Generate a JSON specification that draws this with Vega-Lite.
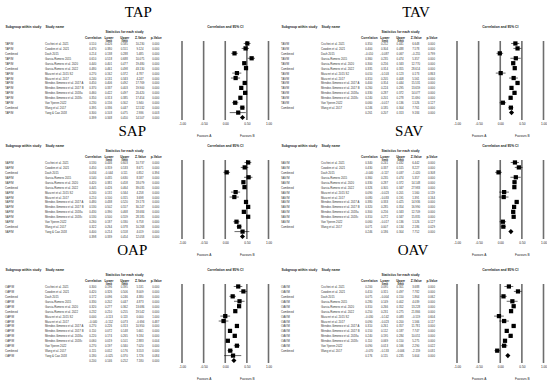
{
"$schema":"https://vega.github.io/schema/vega-lite/v6.json",
"background":"white",
"padding":{"left":5,"top":4,"right":0,"bottom":0},
"spacing":-13,
"data":{"values":[
{"g":"TAP","row":1,"kind":"study","sub":"TAP/M","study":"Cicchini et al. 2021","r":0.510,"lo":0.426,"hi":0.585,"z":10.230,"p":0.000},
{"g":"TAP","row":2,"kind":"study","sub":"TAP/M","study":"Cowden et al. 2021","r":0.470,"lo":0.380,"hi":0.551,"z":9.124,"p":0.000},
{"g":"TAP","row":3,"kind":"study","sub":"Combined","study":"Dash 2015","r":0.214,"lo":0.138,"hi":0.288,"z":5.485,"p":0.000},
{"g":"TAP","row":4,"kind":"study","sub":"TAP/M","study":"Garcia-Romero 2015","r":0.610,"lo":0.518,"hi":0.688,"z":10.075,"p":0.000},
{"g":"TAP","row":5,"kind":"study","sub":"TAP/M","study":"Garcia-Romero et al. 2020","r":0.440,"lo":0.401,"hi":0.477,"z":19.480,"p":0.000},
{"g":"TAP","row":6,"kind":"study","sub":"Combined","study":"Garcia-Romero et al. 2022","r":0.480,"lo":0.461,"hi":0.498,"z":43.130,"p":0.000},
{"g":"TAP","row":7,"kind":"study","sub":"TAP/M","study":"Mascret et al. 2015 S2","r":0.270,"lo":0.162,"hi":0.372,"z":4.787,"p":0.000},
{"g":"TAP","row":8,"kind":"study","sub":"TAP/M","study":"Mascret et al. 2017","r":0.240,"lo":0.131,"hi":0.343,"z":4.247,"p":0.000},
{"g":"TAP","row":9,"kind":"study","sub":"TAP/M","study":"Mendez-Gimenez et al. 2017 A","r":0.450,"lo":0.406,"hi":0.492,"z":17.769,"p":0.000},
{"g":"TAP","row":10,"kind":"study","sub":"TAP/M","study":"Mendez-Gimenez et al. 2017 B","r":0.370,"lo":0.337,"hi":0.403,"z":19.900,"p":0.000},
{"g":"TAP","row":11,"kind":"study","sub":"TAP/M","study":"Mendez-Gimenez et al. 2018a","r":0.460,"lo":0.422,"hi":0.497,"z":20.420,"p":0.000},
{"g":"TAP","row":12,"kind":"study","sub":"TAP/M","study":"Mendez-Gimenez et al. 2018c","r":0.350,"lo":0.313,"hi":0.385,"z":17.454,"p":0.000},
{"g":"TAP","row":13,"kind":"study","sub":"TAP/M","study":"Van Yperen 2022","r":0.230,"lo":0.156,"hi":0.302,"z":5.940,"p":0.000},
{"g":"TAP","row":14,"kind":"study","sub":"Combined","study":"Wang et al. 2017","r":0.395,"lo":0.336,"hi":0.447,"z":12.532,"p":0.000},
{"g":"TAP","row":15,"kind":"study","sub":"TAP/M","study":"Yang & Cao 2018","r":0.300,"lo":0.103,"hi":0.475,"z":2.936,"p":0.003},
{"g":"TAP","row":16,"kind":"summary","r":0.399,"lo":0.348,"hi":0.450,"z":14.507,"p":0.000},
{"g":"TAV","row":1,"kind":"study","sub":"TAV/M","study":"Cicchini et al. 2021","r":0.350,"lo":0.252,"hi":0.441,"z":6.648,"p":0.000},
{"g":"TAV","row":2,"kind":"study","sub":"TAV/M","study":"Cowden et al. 2021","r":0.400,"lo":0.304,"hi":0.488,"z":7.578,"p":0.000},
{"g":"TAV","row":3,"kind":"study","sub":"Combined","study":"Dash 2015","r":-0.010,"lo":-0.087,"hi":0.067,"z":-0.255,"p":0.799},
{"g":"TAV","row":4,"kind":"study","sub":"TAV/M","study":"Garcia-Romero 2015","r":0.360,"lo":0.235,"hi":0.474,"z":5.357,"p":0.000},
{"g":"TAV","row":5,"kind":"study","sub":"TAV/M","study":"Garcia-Romero et al. 2020","r":0.300,"lo":0.256,"hi":0.343,"z":12.770,"p":0.000},
{"g":"TAV","row":6,"kind":"study","sub":"Combined","study":"Garcia-Romero et al. 2022","r":0.335,"lo":0.314,"hi":0.355,"z":28.614,"p":0.000},
{"g":"TAV","row":7,"kind":"study","sub":"TAV/M","study":"Mascret et al. 2015 S2","r":0.010,"lo":-0.103,"hi":0.123,"z":0.173,"p":0.863},
{"g":"TAV","row":8,"kind":"study","sub":"TAV/M","study":"Mascret et al. 2017","r":0.310,"lo":0.205,"hi":0.408,"z":5.561,"p":0.000},
{"g":"TAV","row":9,"kind":"study","sub":"TAV/M","study":"Mendez-Gimenez et al. 2017 A","r":0.400,"lo":0.354,"hi":0.444,"z":15.531,"p":0.000},
{"g":"TAV","row":10,"kind":"study","sub":"TAV/M","study":"Mendez-Gimenez et al. 2017 B","r":0.260,"lo":0.224,"hi":0.295,"z":13.659,"p":0.000},
{"g":"TAV","row":11,"kind":"study","sub":"TAV/M","study":"Mendez-Gimenez et al. 2018a","r":0.330,"lo":0.287,"hi":0.372,"z":14.077,"p":0.000},
{"g":"TAV","row":12,"kind":"study","sub":"TAV/M","study":"Mendez-Gimenez et al. 2018c","r":0.240,"lo":0.201,"hi":0.278,"z":11.690,"p":0.000},
{"g":"TAV","row":13,"kind":"study","sub":"TAV/M","study":"Van Yperen 2022","r":0.060,"lo":-0.017,"hi":0.136,"z":1.526,"p":0.127},
{"g":"TAV","row":14,"kind":"study","sub":"Combined","study":"Wang et al. 2017","r":0.246,"lo":0.185,"hi":0.304,"z":7.761,"p":0.000},
{"g":"TAV","row":15,"kind":"summary","r":0.261,"lo":0.207,"hi":0.313,"z":9.184,"p":0.000},
{"g":"SAP","row":1,"kind":"study","sub":"SAP/M","study":"Cicchini et al. 2021","r":0.530,"lo":0.446,"hi":0.603,"z":10.737,"p":0.000},
{"g":"SAP","row":2,"kind":"study","sub":"SAP/M","study":"Cowden et al. 2021","r":0.450,"lo":0.359,"hi":0.533,"z":8.671,"p":0.000},
{"g":"SAP","row":3,"kind":"study","sub":"Combined","study":"Dash 2015","r":0.034,"lo":-0.044,"hi":0.111,"z":0.852,"p":0.394},
{"g":"SAP","row":4,"kind":"study","sub":"SAP/M","study":"Garcia-Romero 2015","r":0.540,"lo":0.435,"hi":0.630,"z":8.587,"p":0.000},
{"g":"SAP","row":5,"kind":"study","sub":"SAP/M","study":"Garcia-Romero et al. 2020","r":0.420,"lo":0.381,"hi":0.458,"z":18.079,"p":0.000},
{"g":"SAP","row":6,"kind":"study","sub":"Combined","study":"Garcia-Romero et al. 2022","r":0.445,"lo":0.426,"hi":0.464,"z":39.035,"p":0.000},
{"g":"SAP","row":7,"kind":"study","sub":"SAP/M","study":"Mascret et al. 2015 S2","r":0.240,"lo":0.131,"hi":0.344,"z":4.258,"p":0.000},
{"g":"SAP","row":8,"kind":"study","sub":"SAP/M","study":"Mascret et al. 2017","r":0.210,"lo":0.100,"hi":0.315,"z":3.698,"p":0.000},
{"g":"SAP","row":9,"kind":"study","sub":"SAP/M","study":"Mendez-Gimenez et al. 2017 A","r":0.480,"lo":0.438,"hi":0.520,"z":19.173,"p":0.000},
{"g":"SAP","row":10,"kind":"study","sub":"SAP/M","study":"Mendez-Gimenez et al. 2017 B","r":0.530,"lo":0.502,"hi":0.557,"z":30.247,"p":0.000},
{"g":"SAP","row":11,"kind":"study","sub":"SAP/M","study":"Mendez-Gimenez et al. 2018a","r":0.430,"lo":0.390,"hi":0.468,"z":18.684,"p":0.000},
{"g":"SAP","row":12,"kind":"study","sub":"SAP/M","study":"Mendez-Gimenez et al. 2018c","r":0.530,"lo":0.500,"hi":0.559,"z":28.185,"p":0.000},
{"g":"SAP","row":13,"kind":"study","sub":"SAP/M","study":"Van Yperen 2022","r":0.260,"lo":0.187,"hi":0.330,"z":6.758,"p":0.000},
{"g":"SAP","row":14,"kind":"study","sub":"Combined","study":"Wang et al. 2017","r":0.322,"lo":0.264,"hi":0.378,"z":10.268,"p":0.000},
{"g":"SAP","row":15,"kind":"study","sub":"SAP/M","study":"Yang & Cao 2018","r":0.400,"lo":0.214,"hi":0.558,"z":4.019,"p":0.000},
{"g":"SAP","row":16,"kind":"summary","r":0.398,"lo":0.339,"hi":0.454,"z":12.058,"p":0.000},
{"g":"SAV","row":1,"kind":"study","sub":"SAV/M","study":"Cicchini et al. 2021","r":0.340,"lo":0.241,"hi":0.432,"z":6.442,"p":0.000},
{"g":"SAV","row":2,"kind":"study","sub":"SAV/M","study":"Cowden et al. 2021","r":0.430,"lo":0.337,"hi":0.515,"z":8.227,"p":0.000},
{"g":"SAV","row":3,"kind":"study","sub":"Combined","study":"Dash 2015","r":-0.040,"lo":-0.117,"hi":0.037,"z":-1.020,"p":0.308},
{"g":"SAV","row":4,"kind":"study","sub":"SAV/M","study":"Garcia-Romero 2015","r":0.360,"lo":0.235,"hi":0.474,"z":5.357,"p":0.000},
{"g":"SAV","row":5,"kind":"study","sub":"SAV/M","study":"Garcia-Romero et al. 2020","r":0.330,"lo":0.287,"hi":0.372,"z":14.148,"p":0.000},
{"g":"SAV","row":6,"kind":"study","sub":"Combined","study":"Garcia-Romero et al. 2022","r":0.326,"lo":0.305,"hi":0.347,"z":27.983,"p":0.000},
{"g":"SAV","row":7,"kind":"study","sub":"SAV/M","study":"Mascret et al. 2015 S2","r":0.090,"lo":-0.023,"hi":0.201,"z":1.560,"p":0.119},
{"g":"SAV","row":8,"kind":"study","sub":"SAV/M","study":"Mascret et al. 2017","r":0.080,"lo":-0.033,"hi":0.191,"z":1.391,"p":0.164},
{"g":"SAV","row":9,"kind":"study","sub":"SAV/M","study":"Mendez-Gimenez et al. 2017 A","r":0.380,"lo":0.333,"hi":0.425,"z":14.936,"p":0.000},
{"g":"SAV","row":10,"kind":"study","sub":"SAV/M","study":"Mendez-Gimenez et al. 2017 B","r":0.320,"lo":0.285,"hi":0.354,"z":16.990,"p":0.000},
{"g":"SAV","row":11,"kind":"study","sub":"SAV/M","study":"Mendez-Gimenez et al. 2018a","r":0.300,"lo":0.256,"hi":0.343,"z":12.709,"p":0.000},
{"g":"SAV","row":12,"kind":"study","sub":"SAV/M","study":"Mendez-Gimenez et al. 2018c","r":0.310,"lo":0.272,"hi":0.347,"z":15.835,"p":0.000},
{"g":"SAV","row":13,"kind":"study","sub":"SAV/M","study":"Van Yperen 2022","r":0.060,"lo":-0.017,"hi":0.136,"z":1.526,"p":0.127},
{"g":"SAV","row":14,"kind":"study","sub":"Combined","study":"Wang et al. 2017","r":0.071,"lo":0.007,"hi":0.134,"z":2.186,"p":0.029},
{"g":"SAV","row":15,"kind":"summary","r":0.246,"lo":0.186,"hi":0.304,"z":7.752,"p":0.000},
{"g":"OAP","row":1,"kind":"study","sub":"OAP/M","study":"Cicchini et al. 2021","r":0.300,"lo":0.196,"hi":0.395,"z":5.531,"p":0.000},
{"g":"OAP","row":2,"kind":"study","sub":"OAP/M","study":"Cowden et al. 2021","r":0.420,"lo":0.326,"hi":0.506,"z":8.009,"p":0.000},
{"g":"OAP","row":3,"kind":"study","sub":"Combined","study":"Dash 2015","r":0.172,"lo":0.096,"hi":0.246,"z":4.380,"p":0.000},
{"g":"OAP","row":4,"kind":"study","sub":"OAP/M","study":"Garcia-Romero 2015","r":0.330,"lo":0.202,"hi":0.447,"z":4.873,"p":0.000},
{"g":"OAP","row":5,"kind":"study","sub":"OAP/M","study":"Garcia-Romero et al. 2020","r":0.320,"lo":0.277,"hi":0.362,"z":13.686,"p":0.000},
{"g":"OAP","row":6,"kind":"study","sub":"Combined","study":"Garcia-Romero et al. 2022","r":0.232,"lo":0.210,"hi":0.255,"z":19.542,"p":0.000},
{"g":"OAP","row":7,"kind":"study","sub":"OAP/M","study":"Mascret et al. 2015 S2","r":0.000,"lo":-0.113,"hi":0.113,"z":0.000,"p":1.000},
{"g":"OAP","row":8,"kind":"study","sub":"OAP/M","study":"Mascret et al. 2017","r":-0.040,"lo":-0.152,"hi":0.073,"z":-0.694,"p":0.487},
{"g":"OAP","row":9,"kind":"study","sub":"OAP/M","study":"Mendez-Gimenez et al. 2017 A","r":0.270,"lo":0.226,"hi":0.313,"z":10.950,"p":0.000},
{"g":"OAP","row":10,"kind":"study","sub":"OAP/M","study":"Mendez-Gimenez et al. 2017 B","r":0.110,"lo":0.072,"hi":0.148,"z":5.661,"p":0.000},
{"g":"OAP","row":11,"kind":"study","sub":"OAP/M","study":"Mendez-Gimenez et al. 2018a","r":0.220,"lo":0.174,"hi":0.265,"z":9.184,"p":0.000},
{"g":"OAP","row":12,"kind":"study","sub":"OAP/M","study":"Mendez-Gimenez et al. 2018c","r":0.060,"lo":0.019,"hi":0.101,"z":2.883,"p":0.004},
{"g":"OAP","row":13,"kind":"study","sub":"OAP/M","study":"Van Yperen 2022","r":0.270,"lo":0.197,"hi":0.340,"z":7.020,"p":0.000},
{"g":"OAP","row":14,"kind":"study","sub":"Combined","study":"Wang et al. 2017","r":0.115,"lo":0.052,"hi":0.176,"z":3.553,"p":0.000},
{"g":"OAP","row":15,"kind":"study","sub":"OAP/M","study":"Yang & Cao 2018","r":0.180,"lo":-0.025,"hi":0.370,"z":1.726,"p":0.084},
{"g":"OAP","row":16,"kind":"summary","r":0.200,"lo":0.146,"hi":0.252,"z":7.180,"p":0.000},
{"g":"OAV","row":1,"kind":"study","sub":"OAV/M","study":"Cicchini et al. 2021","r":0.200,"lo":0.095,"hi":0.301,"z":3.688,"p":0.000},
{"g":"OAV","row":2,"kind":"study","sub":"OAV/M","study":"Cowden et al. 2021","r":0.410,"lo":0.315,"hi":0.497,"z":7.782,"p":0.000},
{"g":"OAV","row":3,"kind":"study","sub":"Combined","study":"Dash 2015","r":0.075,"lo":-0.004,"hi":0.150,"z":1.864,"p":0.062},
{"g":"OAV","row":4,"kind":"study","sub":"OAV/M","study":"Garcia-Romero 2015","r":0.280,"lo":0.149,"hi":0.402,"z":4.039,"p":0.000},
{"g":"OAV","row":5,"kind":"study","sub":"OAV/M","study":"Garcia-Romero et al. 2020","r":0.310,"lo":0.266,"hi":0.352,"z":13.228,"p":0.000},
{"g":"OAV","row":6,"kind":"study","sub":"Combined","study":"Garcia-Romero et al. 2022","r":0.250,"lo":0.231,"hi":0.275,"z":21.866,"p":0.000},
{"g":"OAV","row":7,"kind":"study","sub":"OAV/M","study":"Mascret et al. 2015 S2","r":-0.030,"lo":-0.142,"hi":0.083,"z":-0.519,"p":0.604},
{"g":"OAV","row":8,"kind":"study","sub":"OAV/M","study":"Mascret et al. 2017","r":0.090,"lo":-0.023,"hi":0.200,"z":1.566,"p":0.117},
{"g":"OAV","row":9,"kind":"study","sub":"OAV/M","study":"Mendez-Gimenez et al. 2017 A","r":0.310,"lo":0.261,"hi":0.357,"z":11.781,"p":0.000},
{"g":"OAV","row":10,"kind":"study","sub":"OAV/M","study":"Mendez-Gimenez et al. 2017 B","r":0.150,"lo":0.112,"hi":0.187,"z":7.747,"p":0.000},
{"g":"OAV","row":11,"kind":"study","sub":"OAV/M","study":"Mendez-Gimenez et al. 2018a","r":0.240,"lo":0.195,"hi":0.284,"z":10.051,"p":0.000},
{"g":"OAV","row":12,"kind":"study","sub":"OAV/M","study":"Mendez-Gimenez et al. 2018c","r":0.110,"lo":0.069,"hi":0.150,"z":5.275,"p":0.000},
{"g":"OAV","row":13,"kind":"study","sub":"OAV/M","study":"Van Yperen 2022","r":0.090,"lo":0.013,"hi":0.166,"z":2.290,"p":0.022},
{"g":"OAV","row":14,"kind":"study","sub":"Combined","study":"Wang et al. 2017","r":-0.070,"lo":-0.133,"hi":-0.006,"z":-2.159,"p":0.031},
{"g":"OAV","row":15,"kind":"summary","r":0.176,"lo":0.115,"hi":0.235,"z":5.604,"p":0.000}
]},
"vconcat":[
{"hconcat":[
{"width":82,"height":79,"transform":[{"filter":"datum.g == 'TAP' && datum.kind == 'study'"},{"fold":["sub","study"],"as":["col","txt"]}],
 "mark":{"type":"text","align":"left","baseline":"middle","font":"Liberation Sans","fontSize":2.8,"color":"#333"},
 "encoding":{"x":{"field":"col","type":"nominal","scale":{"type":"point","domain":["sub","study"],"padding":0.525,"align":0},"axis":{"orient":"top","title":null,"domain":false,"ticks":false,"tickSize":0,"labelAngle":0,"labelAlign":"left","labelBaseline":"bottom","labelFont":"Liberation Sans","labelFontSize":3.3,"labelFontWeight":"bold","labelColor":"#222","labelPadding":12.4,"labelOverlap":false,"labelExpr":"datum.value == 'sub' ? 'Subgroup within study' : 'Study name'"}},
 "y":{"field":"row","type":"ordinal","scale":{"type":"point","domain":[1,2,3,4,5,6,7,8,9,10,11,12,13,14,15,16],"padding":0.5},"axis":null},
 "text":{"field":"txt","type":"nominal"}}},
{"width":94.5,"height":79,"title":{"text":"TAP","font":"Liberation Serif","fontSize":15,"fontWeight":"normal","color":"#000","offset":9.7,"dx":4,"anchor":"middle"},
 "transform":[{"filter":"datum.g == 'TAP'"},{"fold":["r","lo","hi","z","p"],"as":["col","val"]}],
 "mark":{"type":"text","align":"center","baseline":"middle","font":"Liberation Sans","fontSize":2.8,"color":"#333"},
 "encoding":{"x":{"field":"col","type":"nominal","scale":{"type":"point","domain":["r","lo","hi","z","p"],"padding":1.375,"align":0.1818},"axis":{"orient":"top","title":"Statistics for each study","titleFont":"Liberation Sans","titleFontSize":3.3,"titleFontWeight":"bold","titleColor":"#222","titlePadding":2.5,"titleX":37,"domain":false,"ticks":false,"tickSize":0,"labelAngle":0,"labelFont":"Liberation Sans","labelFontSize":3.1,"labelFontWeight":"bold","labelColor":"#222","labelPadding":2,"labelLineHeight":3.8,"labelOverlap":false,"labelExpr":"datum.value == 'r' ? 'Correlation' : datum.value == 'lo' ? ['Lower','limit'] : datum.value == 'hi' ? ['Upper','limit'] : datum.value == 'z' ? 'Z-Value' : 'p-Value'"}},
 "y":{"field":"row","type":"ordinal","scale":{"type":"point","domain":[1,2,3,4,5,6,7,8,9,10,11,12,13,14,15,16],"padding":0.5},"axis":null},
 "text":{"field":"val","type":"quantitative","format":".3f"}}},
{"width":86.5,"height":79,"title":{"text":"Correlation and 95% CI","font":"Liberation Sans","fontSize":3.3,"fontWeight":"bold","color":"#222","offset":12,"anchor":"middle"},
 "layer":[
  {"data":{"values":[{"v":-1},{"v":-0.5},{"v":0},{"v":0.5},{"v":1}]},"mark":{"type":"rule","color":"#6e6e6e","strokeWidth":1.6},
   "encoding":{"x":{"field":"v","type":"quantitative","title":null,"scale":{"domain":[-1,1],"nice":false,"zero":false},"axis":{"orient":"bottom","values":[-1,-0.5,0,0.5,1],"grid":false,"domain":false,"ticks":false,"labelFont":"Liberation Sans","labelFontSize":3.2,"labelColor":"#222","labelPadding":1,"labelFlush":false,"labelOverlap":false,"labelLineHeight":12.8,"labelExpr":"datum.value == -1 ? '-1.00' : datum.value == -0.5 ? ['-0.50','Favours A'] : datum.value == 0 ? '0.00' : datum.value == 0.5 ? ['0.50','Favours B'] : '1.00'"}}}},
  {"transform":[{"filter":"datum.g == 'TAP' && datum.kind == 'study'"}],"mark":{"type":"rule","color":"#000","strokeWidth":0.6},
   "encoding":{"x":{"field":"lo","type":"quantitative","title":null,"axis":{"orient":"bottom","values":[-1,-0.5,0,0.5,1],"grid":false,"domain":false,"ticks":false,"labelFont":"Liberation Sans","labelFontSize":3.2,"labelColor":"#222","labelPadding":1,"labelFlush":false,"labelOverlap":false,"labelLineHeight":12.8,"labelExpr":"datum.value == -1 ? '-1.00' : datum.value == -0.5 ? ['-0.50','Favours A'] : datum.value == 0 ? '0.00' : datum.value == 0.5 ? ['0.50','Favours B'] : '1.00'"}},"x2":{"field":"hi"},
   "y":{"field":"row","type":"ordinal","scale":{"type":"point","domain":[1,2,3,4,5,6,7,8,9,10,11,12,13,14,15,16],"padding":0.5},"axis":null}}},
  {"transform":[{"filter":"datum.g == 'TAP' && datum.kind == 'study'"}],"mark":{"type":"point","shape":"square","filled":true,"size":18,"color":"#000","opacity":1},
   "encoding":{"x":{"field":"r","type":"quantitative","title":null,"axis":{"orient":"bottom","values":[-1,-0.5,0,0.5,1],"grid":false,"domain":false,"ticks":false,"labelFont":"Liberation Sans","labelFontSize":3.2,"labelColor":"#222","labelPadding":1,"labelFlush":false,"labelOverlap":false,"labelLineHeight":12.8,"labelExpr":"datum.value == -1 ? '-1.00' : datum.value == -0.5 ? ['-0.50','Favours A'] : datum.value == 0 ? '0.00' : datum.value == 0.5 ? ['0.50','Favours B'] : '1.00'"}},"y":{"field":"row","type":"ordinal","axis":null}}},
  {"transform":[{"filter":"datum.g == 'TAP' && datum.kind == 'summary'"}],"mark":{"type":"point","shape":"diamond","filled":true,"size":26,"color":"#000","opacity":1},
   "encoding":{"x":{"field":"r","type":"quantitative","title":null,"axis":{"orient":"bottom","values":[-1,-0.5,0,0.5,1],"grid":false,"domain":false,"ticks":false,"labelFont":"Liberation Sans","labelFontSize":3.2,"labelColor":"#222","labelPadding":1,"labelFlush":false,"labelOverlap":false,"labelLineHeight":12.8,"labelExpr":"datum.value == -1 ? '-1.00' : datum.value == -0.5 ? ['-0.50','Favours A'] : datum.value == 0 ? '0.00' : datum.value == 0.5 ? ['0.50','Favours B'] : '1.00'"}},"y":{"field":"row","type":"ordinal","axis":null}}}
 ]},
{"width":94,"height":79,"transform":[{"filter":"datum.g == 'TAV' && datum.kind == 'study'"},{"fold":["sub","study"],"as":["col","txt"]}],
 "mark":{"type":"text","align":"left","baseline":"middle","font":"Liberation Sans","fontSize":2.8,"color":"#333"},
 "encoding":{"x":{"field":"col","type":"nominal","scale":{"type":"point","domain":["sub","study"],"padding":0.675,"align":0.2222},"axis":{"orient":"top","title":null,"domain":false,"ticks":false,"tickSize":0,"labelAngle":0,"labelAlign":"left","labelBaseline":"bottom","labelFont":"Liberation Sans","labelFontSize":3.3,"labelFontWeight":"bold","labelColor":"#222","labelPadding":12.4,"labelOverlap":false,"labelExpr":"datum.value == 'sub' ? 'Subgroup within study' : 'Study name'"}},
 "y":{"field":"row","type":"ordinal","scale":{"type":"point","domain":[1,2,3,4,5,6,7,8,9,10,11,12,13,14,15,16],"padding":0.5},"axis":null},
 "text":{"field":"txt","type":"nominal"}}},
{"width":94,"height":79,"title":{"text":"TAV","font":"Liberation Serif","fontSize":15,"fontWeight":"normal","color":"#000","offset":9.7,"dx":6,"anchor":"middle"},
 "transform":[{"filter":"datum.g == 'TAV'"},{"fold":["r","lo","hi","z","p"],"as":["col","val"]}],
 "mark":{"type":"text","align":"center","baseline":"middle","font":"Liberation Sans","fontSize":2.8,"color":"#333"},
 "encoding":{"x":{"field":"col","type":"nominal","scale":{"type":"point","domain":["r","lo","hi","z","p"],"padding":1.357,"align":0.184},"axis":{"orient":"top","title":"Statistics for each study","titleFont":"Liberation Sans","titleFontSize":3.3,"titleFontWeight":"bold","titleColor":"#222","titlePadding":2.5,"titleX":37,"domain":false,"ticks":false,"tickSize":0,"labelAngle":0,"labelFont":"Liberation Sans","labelFontSize":3.1,"labelFontWeight":"bold","labelColor":"#222","labelPadding":2,"labelLineHeight":3.8,"labelOverlap":false,"labelExpr":"datum.value == 'r' ? 'Correlation' : datum.value == 'lo' ? ['Lower','limit'] : datum.value == 'hi' ? ['Upper','limit'] : datum.value == 'z' ? 'Z-Value' : 'p-Value'"}},
 "y":{"field":"row","type":"ordinal","scale":{"type":"point","domain":[1,2,3,4,5,6,7,8,9,10,11,12,13,14,15,16],"padding":0.5},"axis":null},
 "text":{"field":"val","type":"quantitative","format":".3f"}}},
{"width":86.5,"height":79,"title":{"text":"Correlation and 95% CI","font":"Liberation Sans","fontSize":3.3,"fontWeight":"bold","color":"#222","offset":12,"anchor":"middle"},
 "layer":[
  {"data":{"values":[{"v":-1},{"v":-0.5},{"v":0},{"v":0.5},{"v":1}]},"mark":{"type":"rule","color":"#6e6e6e","strokeWidth":1.6},
   "encoding":{"x":{"field":"v","type":"quantitative","title":null,"scale":{"domain":[-1,1],"nice":false,"zero":false},"axis":{"orient":"bottom","values":[-1,-0.5,0,0.5,1],"grid":false,"domain":false,"ticks":false,"labelFont":"Liberation Sans","labelFontSize":3.2,"labelColor":"#222","labelPadding":1,"labelFlush":false,"labelOverlap":false,"labelLineHeight":12.8,"labelExpr":"datum.value == -1 ? '-1.00' : datum.value == -0.5 ? ['-0.50','Favours A'] : datum.value == 0 ? '0.00' : datum.value == 0.5 ? ['0.50','Favours B'] : '1.00'"}}}},
  {"transform":[{"filter":"datum.g == 'TAV' && datum.kind == 'study'"}],"mark":{"type":"rule","color":"#000","strokeWidth":0.6},
   "encoding":{"x":{"field":"lo","type":"quantitative","title":null,"axis":{"orient":"bottom","values":[-1,-0.5,0,0.5,1],"grid":false,"domain":false,"ticks":false,"labelFont":"Liberation Sans","labelFontSize":3.2,"labelColor":"#222","labelPadding":1,"labelFlush":false,"labelOverlap":false,"labelLineHeight":12.8,"labelExpr":"datum.value == -1 ? '-1.00' : datum.value == -0.5 ? ['-0.50','Favours A'] : datum.value == 0 ? '0.00' : datum.value == 0.5 ? ['0.50','Favours B'] : '1.00'"}},"x2":{"field":"hi"},
   "y":{"field":"row","type":"ordinal","scale":{"type":"point","domain":[1,2,3,4,5,6,7,8,9,10,11,12,13,14,15,16],"padding":0.5},"axis":null}}},
  {"transform":[{"filter":"datum.g == 'TAV' && datum.kind == 'study'"}],"mark":{"type":"point","shape":"square","filled":true,"size":18,"color":"#000","opacity":1},
   "encoding":{"x":{"field":"r","type":"quantitative","title":null,"axis":{"orient":"bottom","values":[-1,-0.5,0,0.5,1],"grid":false,"domain":false,"ticks":false,"labelFont":"Liberation Sans","labelFontSize":3.2,"labelColor":"#222","labelPadding":1,"labelFlush":false,"labelOverlap":false,"labelLineHeight":12.8,"labelExpr":"datum.value == -1 ? '-1.00' : datum.value == -0.5 ? ['-0.50','Favours A'] : datum.value == 0 ? '0.00' : datum.value == 0.5 ? ['0.50','Favours B'] : '1.00'"}},"y":{"field":"row","type":"ordinal","axis":null}}},
  {"transform":[{"filter":"datum.g == 'TAV' && datum.kind == 'summary'"}],"mark":{"type":"point","shape":"diamond","filled":true,"size":26,"color":"#000","opacity":1},
   "encoding":{"x":{"field":"r","type":"quantitative","title":null,"axis":{"orient":"bottom","values":[-1,-0.5,0,0.5,1],"grid":false,"domain":false,"ticks":false,"labelFont":"Liberation Sans","labelFontSize":3.2,"labelColor":"#222","labelPadding":1,"labelFlush":false,"labelOverlap":false,"labelLineHeight":12.8,"labelExpr":"datum.value == -1 ? '-1.00' : datum.value == -0.5 ? ['-0.50','Favours A'] : datum.value == 0 ? '0.00' : datum.value == 0.5 ? ['0.50','Favours B'] : '1.00'"}},"y":{"field":"row","type":"ordinal","axis":null}}}
 ]}
],"spacing":0,"bounds":"flush"},
{"hconcat":[
{"width":82,"height":79,"transform":[{"filter":"datum.g == 'SAP' && datum.kind == 'study'"},{"fold":["sub","study"],"as":["col","txt"]}],
 "mark":{"type":"text","align":"left","baseline":"middle","font":"Liberation Sans","fontSize":2.8,"color":"#333"},
 "encoding":{"x":{"field":"col","type":"nominal","scale":{"type":"point","domain":["sub","study"],"padding":0.525,"align":0},"axis":{"orient":"top","title":null,"domain":false,"ticks":false,"tickSize":0,"labelAngle":0,"labelAlign":"left","labelBaseline":"bottom","labelFont":"Liberation Sans","labelFontSize":3.3,"labelFontWeight":"bold","labelColor":"#222","labelPadding":12.4,"labelOverlap":false,"labelExpr":"datum.value == 'sub' ? 'Subgroup within study' : 'Study name'"}},
 "y":{"field":"row","type":"ordinal","scale":{"type":"point","domain":[1,2,3,4,5,6,7,8,9,10,11,12,13,14,15,16],"padding":0.5},"axis":null},
 "text":{"field":"txt","type":"nominal"}}},
{"width":94.5,"height":79,"title":{"text":"SAP","font":"Liberation Serif","fontSize":15,"fontWeight":"normal","color":"#000","offset":9.2,"dx":-2,"anchor":"middle"},
 "transform":[{"filter":"datum.g == 'SAP'"},{"fold":["r","lo","hi","z","p"],"as":["col","val"]}],
 "mark":{"type":"text","align":"center","baseline":"middle","font":"Liberation Sans","fontSize":2.8,"color":"#333"},
 "encoding":{"x":{"field":"col","type":"nominal","scale":{"type":"point","domain":["r","lo","hi","z","p"],"padding":1.375,"align":0.1818},"axis":{"orient":"top","title":"Statistics for each study","titleFont":"Liberation Sans","titleFontSize":3.3,"titleFontWeight":"bold","titleColor":"#222","titlePadding":2.5,"titleX":37,"domain":false,"ticks":false,"tickSize":0,"labelAngle":0,"labelFont":"Liberation Sans","labelFontSize":3.1,"labelFontWeight":"bold","labelColor":"#222","labelPadding":2,"labelLineHeight":3.8,"labelOverlap":false,"labelExpr":"datum.value == 'r' ? 'Correlation' : datum.value == 'lo' ? ['Lower','limit'] : datum.value == 'hi' ? ['Upper','limit'] : datum.value == 'z' ? 'Z-Value' : 'p-Value'"}},
 "y":{"field":"row","type":"ordinal","scale":{"type":"point","domain":[1,2,3,4,5,6,7,8,9,10,11,12,13,14,15,16],"padding":0.5},"axis":null},
 "text":{"field":"val","type":"quantitative","format":".3f"}}},
{"width":86.5,"height":79,"title":{"text":"Correlation and 95% CI","font":"Liberation Sans","fontSize":3.3,"fontWeight":"bold","color":"#222","offset":12,"anchor":"middle"},
 "layer":[
  {"data":{"values":[{"v":-1},{"v":-0.5},{"v":0},{"v":0.5},{"v":1}]},"mark":{"type":"rule","color":"#6e6e6e","strokeWidth":1.6},
   "encoding":{"x":{"field":"v","type":"quantitative","title":null,"scale":{"domain":[-1,1],"nice":false,"zero":false},"axis":{"orient":"bottom","values":[-1,-0.5,0,0.5,1],"grid":false,"domain":false,"ticks":false,"labelFont":"Liberation Sans","labelFontSize":3.2,"labelColor":"#222","labelPadding":1,"labelFlush":false,"labelOverlap":false,"labelLineHeight":12.8,"labelExpr":"datum.value == -1 ? '-1.00' : datum.value == -0.5 ? ['-0.50','Favours A'] : datum.value == 0 ? '0.00' : datum.value == 0.5 ? ['0.50','Favours B'] : '1.00'"}}}},
  {"transform":[{"filter":"datum.g == 'SAP' && datum.kind == 'study'"}],"mark":{"type":"rule","color":"#000","strokeWidth":0.6},
   "encoding":{"x":{"field":"lo","type":"quantitative","title":null,"axis":{"orient":"bottom","values":[-1,-0.5,0,0.5,1],"grid":false,"domain":false,"ticks":false,"labelFont":"Liberation Sans","labelFontSize":3.2,"labelColor":"#222","labelPadding":1,"labelFlush":false,"labelOverlap":false,"labelLineHeight":12.8,"labelExpr":"datum.value == -1 ? '-1.00' : datum.value == -0.5 ? ['-0.50','Favours A'] : datum.value == 0 ? '0.00' : datum.value == 0.5 ? ['0.50','Favours B'] : '1.00'"}},"x2":{"field":"hi"},
   "y":{"field":"row","type":"ordinal","scale":{"type":"point","domain":[1,2,3,4,5,6,7,8,9,10,11,12,13,14,15,16],"padding":0.5},"axis":null}}},
  {"transform":[{"filter":"datum.g == 'SAP' && datum.kind == 'study'"}],"mark":{"type":"point","shape":"square","filled":true,"size":18,"color":"#000","opacity":1},
   "encoding":{"x":{"field":"r","type":"quantitative","title":null,"axis":{"orient":"bottom","values":[-1,-0.5,0,0.5,1],"grid":false,"domain":false,"ticks":false,"labelFont":"Liberation Sans","labelFontSize":3.2,"labelColor":"#222","labelPadding":1,"labelFlush":false,"labelOverlap":false,"labelLineHeight":12.8,"labelExpr":"datum.value == -1 ? '-1.00' : datum.value == -0.5 ? ['-0.50','Favours A'] : datum.value == 0 ? '0.00' : datum.value == 0.5 ? ['0.50','Favours B'] : '1.00'"}},"y":{"field":"row","type":"ordinal","axis":null}}},
  {"transform":[{"filter":"datum.g == 'SAP' && datum.kind == 'summary'"}],"mark":{"type":"point","shape":"diamond","filled":true,"size":26,"color":"#000","opacity":1},
   "encoding":{"x":{"field":"r","type":"quantitative","title":null,"axis":{"orient":"bottom","values":[-1,-0.5,0,0.5,1],"grid":false,"domain":false,"ticks":false,"labelFont":"Liberation Sans","labelFontSize":3.2,"labelColor":"#222","labelPadding":1,"labelFlush":false,"labelOverlap":false,"labelLineHeight":12.8,"labelExpr":"datum.value == -1 ? '-1.00' : datum.value == -0.5 ? ['-0.50','Favours A'] : datum.value == 0 ? '0.00' : datum.value == 0.5 ? ['0.50','Favours B'] : '1.00'"}},"y":{"field":"row","type":"ordinal","axis":null}}}
 ]},
{"width":94,"height":79,"transform":[{"filter":"datum.g == 'SAV' && datum.kind == 'study'"},{"fold":["sub","study"],"as":["col","txt"]}],
 "mark":{"type":"text","align":"left","baseline":"middle","font":"Liberation Sans","fontSize":2.8,"color":"#333"},
 "encoding":{"x":{"field":"col","type":"nominal","scale":{"type":"point","domain":["sub","study"],"padding":0.675,"align":0.2222},"axis":{"orient":"top","title":null,"domain":false,"ticks":false,"tickSize":0,"labelAngle":0,"labelAlign":"left","labelBaseline":"bottom","labelFont":"Liberation Sans","labelFontSize":3.3,"labelFontWeight":"bold","labelColor":"#222","labelPadding":12.4,"labelOverlap":false,"labelExpr":"datum.value == 'sub' ? 'Subgroup within study' : 'Study name'"}},
 "y":{"field":"row","type":"ordinal","scale":{"type":"point","domain":[1,2,3,4,5,6,7,8,9,10,11,12,13,14,15,16],"padding":0.5},"axis":null},
 "text":{"field":"txt","type":"nominal"}}},
{"width":94,"height":79,"title":{"text":"SAV","font":"Liberation Serif","fontSize":15,"fontWeight":"normal","color":"#000","offset":9.2,"dx":-1,"anchor":"middle"},
 "transform":[{"filter":"datum.g == 'SAV'"},{"fold":["r","lo","hi","z","p"],"as":["col","val"]}],
 "mark":{"type":"text","align":"center","baseline":"middle","font":"Liberation Sans","fontSize":2.8,"color":"#333"},
 "encoding":{"x":{"field":"col","type":"nominal","scale":{"type":"point","domain":["r","lo","hi","z","p"],"padding":1.357,"align":0.184},"axis":{"orient":"top","title":"Statistics for each study","titleFont":"Liberation Sans","titleFontSize":3.3,"titleFontWeight":"bold","titleColor":"#222","titlePadding":2.5,"titleX":37,"domain":false,"ticks":false,"tickSize":0,"labelAngle":0,"labelFont":"Liberation Sans","labelFontSize":3.1,"labelFontWeight":"bold","labelColor":"#222","labelPadding":2,"labelLineHeight":3.8,"labelOverlap":false,"labelExpr":"datum.value == 'r' ? 'Correlation' : datum.value == 'lo' ? ['Lower','limit'] : datum.value == 'hi' ? ['Upper','limit'] : datum.value == 'z' ? 'Z-Value' : 'p-Value'"}},
 "y":{"field":"row","type":"ordinal","scale":{"type":"point","domain":[1,2,3,4,5,6,7,8,9,10,11,12,13,14,15,16],"padding":0.5},"axis":null},
 "text":{"field":"val","type":"quantitative","format":".3f"}}},
{"width":86.5,"height":79,"title":{"text":"Correlation and 95% CI","font":"Liberation Sans","fontSize":3.3,"fontWeight":"bold","color":"#222","offset":12,"anchor":"middle"},
 "layer":[
  {"data":{"values":[{"v":-1},{"v":-0.5},{"v":0},{"v":0.5},{"v":1}]},"mark":{"type":"rule","color":"#6e6e6e","strokeWidth":1.6},
   "encoding":{"x":{"field":"v","type":"quantitative","title":null,"scale":{"domain":[-1,1],"nice":false,"zero":false},"axis":{"orient":"bottom","values":[-1,-0.5,0,0.5,1],"grid":false,"domain":false,"ticks":false,"labelFont":"Liberation Sans","labelFontSize":3.2,"labelColor":"#222","labelPadding":1,"labelFlush":false,"labelOverlap":false,"labelLineHeight":12.8,"labelExpr":"datum.value == -1 ? '-1.00' : datum.value == -0.5 ? ['-0.50','Favours A'] : datum.value == 0 ? '0.00' : datum.value == 0.5 ? ['0.50','Favours B'] : '1.00'"}}}},
  {"transform":[{"filter":"datum.g == 'SAV' && datum.kind == 'study'"}],"mark":{"type":"rule","color":"#000","strokeWidth":0.6},
   "encoding":{"x":{"field":"lo","type":"quantitative","title":null,"axis":{"orient":"bottom","values":[-1,-0.5,0,0.5,1],"grid":false,"domain":false,"ticks":false,"labelFont":"Liberation Sans","labelFontSize":3.2,"labelColor":"#222","labelPadding":1,"labelFlush":false,"labelOverlap":false,"labelLineHeight":12.8,"labelExpr":"datum.value == -1 ? '-1.00' : datum.value == -0.5 ? ['-0.50','Favours A'] : datum.value == 0 ? '0.00' : datum.value == 0.5 ? ['0.50','Favours B'] : '1.00'"}},"x2":{"field":"hi"},
   "y":{"field":"row","type":"ordinal","scale":{"type":"point","domain":[1,2,3,4,5,6,7,8,9,10,11,12,13,14,15,16],"padding":0.5},"axis":null}}},
  {"transform":[{"filter":"datum.g == 'SAV' && datum.kind == 'study'"}],"mark":{"type":"point","shape":"square","filled":true,"size":18,"color":"#000","opacity":1},
   "encoding":{"x":{"field":"r","type":"quantitative","title":null,"axis":{"orient":"bottom","values":[-1,-0.5,0,0.5,1],"grid":false,"domain":false,"ticks":false,"labelFont":"Liberation Sans","labelFontSize":3.2,"labelColor":"#222","labelPadding":1,"labelFlush":false,"labelOverlap":false,"labelLineHeight":12.8,"labelExpr":"datum.value == -1 ? '-1.00' : datum.value == -0.5 ? ['-0.50','Favours A'] : datum.value == 0 ? '0.00' : datum.value == 0.5 ? ['0.50','Favours B'] : '1.00'"}},"y":{"field":"row","type":"ordinal","axis":null}}},
  {"transform":[{"filter":"datum.g == 'SAV' && datum.kind == 'summary'"}],"mark":{"type":"point","shape":"diamond","filled":true,"size":26,"color":"#000","opacity":1},
   "encoding":{"x":{"field":"r","type":"quantitative","title":null,"axis":{"orient":"bottom","values":[-1,-0.5,0,0.5,1],"grid":false,"domain":false,"ticks":false,"labelFont":"Liberation Sans","labelFontSize":3.2,"labelColor":"#222","labelPadding":1,"labelFlush":false,"labelOverlap":false,"labelLineHeight":12.8,"labelExpr":"datum.value == -1 ? '-1.00' : datum.value == -0.5 ? ['-0.50','Favours A'] : datum.value == 0 ? '0.00' : datum.value == 0.5 ? ['0.50','Favours B'] : '1.00'"}},"y":{"field":"row","type":"ordinal","axis":null}}}
 ]}
],"spacing":0,"bounds":"flush"},
{"hconcat":[
{"width":82,"height":79,"transform":[{"filter":"datum.g == 'OAP' && datum.kind == 'study'"},{"fold":["sub","study"],"as":["col","txt"]}],
 "mark":{"type":"text","align":"left","baseline":"middle","font":"Liberation Sans","fontSize":2.8,"color":"#333"},
 "encoding":{"x":{"field":"col","type":"nominal","scale":{"type":"point","domain":["sub","study"],"padding":0.525,"align":0},"axis":{"orient":"top","title":null,"domain":false,"ticks":false,"tickSize":0,"labelAngle":0,"labelAlign":"left","labelBaseline":"bottom","labelFont":"Liberation Sans","labelFontSize":3.3,"labelFontWeight":"bold","labelColor":"#222","labelPadding":12.4,"labelOverlap":false,"labelExpr":"datum.value == 'sub' ? 'Subgroup within study' : 'Study name'"}},
 "y":{"field":"row","type":"ordinal","scale":{"type":"point","domain":[1,2,3,4,5,6,7,8,9,10,11,12,13,14,15,16],"padding":0.5},"axis":null},
 "text":{"field":"txt","type":"nominal"}}},
{"width":94.5,"height":79,"title":{"text":"OAP","font":"Liberation Serif","fontSize":15,"fontWeight":"normal","color":"#000","offset":14.2,"dx":-2,"anchor":"middle"},
 "transform":[{"filter":"datum.g == 'OAP'"},{"fold":["r","lo","hi","z","p"],"as":["col","val"]}],
 "mark":{"type":"text","align":"center","baseline":"middle","font":"Liberation Sans","fontSize":2.8,"color":"#333"},
 "encoding":{"x":{"field":"col","type":"nominal","scale":{"type":"point","domain":["r","lo","hi","z","p"],"padding":1.375,"align":0.1818},"axis":{"orient":"top","title":"Statistics for each study","titleFont":"Liberation Sans","titleFontSize":3.3,"titleFontWeight":"bold","titleColor":"#222","titlePadding":2.5,"titleX":37,"domain":false,"ticks":false,"tickSize":0,"labelAngle":0,"labelFont":"Liberation Sans","labelFontSize":3.1,"labelFontWeight":"bold","labelColor":"#222","labelPadding":2,"labelLineHeight":3.8,"labelOverlap":false,"labelExpr":"datum.value == 'r' ? 'Correlation' : datum.value == 'lo' ? ['Lower','limit'] : datum.value == 'hi' ? ['Upper','limit'] : datum.value == 'z' ? 'Z-Value' : 'p-Value'"}},
 "y":{"field":"row","type":"ordinal","scale":{"type":"point","domain":[1,2,3,4,5,6,7,8,9,10,11,12,13,14,15,16],"padding":0.5},"axis":null},
 "text":{"field":"val","type":"quantitative","format":".3f"}}},
{"width":86.5,"height":79,"title":{"text":"Correlation and 95% CI","font":"Liberation Sans","fontSize":3.3,"fontWeight":"bold","color":"#222","offset":12,"anchor":"middle"},
 "layer":[
  {"data":{"values":[{"v":-1},{"v":-0.5},{"v":0},{"v":0.5},{"v":1}]},"mark":{"type":"rule","color":"#6e6e6e","strokeWidth":1.6},
   "encoding":{"x":{"field":"v","type":"quantitative","title":null,"scale":{"domain":[-1,1],"nice":false,"zero":false},"axis":{"orient":"bottom","values":[-1,-0.5,0,0.5,1],"grid":false,"domain":false,"ticks":false,"labelFont":"Liberation Sans","labelFontSize":3.2,"labelColor":"#222","labelPadding":1,"labelFlush":false,"labelOverlap":false,"labelLineHeight":12.8,"labelExpr":"datum.value == -1 ? '-1.00' : datum.value == -0.5 ? ['-0.50','Favours A'] : datum.value == 0 ? '0.00' : datum.value == 0.5 ? ['0.50','Favours B'] : '1.00'"}}}},
  {"transform":[{"filter":"datum.g == 'OAP' && datum.kind == 'study'"}],"mark":{"type":"rule","color":"#000","strokeWidth":0.6},
   "encoding":{"x":{"field":"lo","type":"quantitative","title":null,"axis":{"orient":"bottom","values":[-1,-0.5,0,0.5,1],"grid":false,"domain":false,"ticks":false,"labelFont":"Liberation Sans","labelFontSize":3.2,"labelColor":"#222","labelPadding":1,"labelFlush":false,"labelOverlap":false,"labelLineHeight":12.8,"labelExpr":"datum.value == -1 ? '-1.00' : datum.value == -0.5 ? ['-0.50','Favours A'] : datum.value == 0 ? '0.00' : datum.value == 0.5 ? ['0.50','Favours B'] : '1.00'"}},"x2":{"field":"hi"},
   "y":{"field":"row","type":"ordinal","scale":{"type":"point","domain":[1,2,3,4,5,6,7,8,9,10,11,12,13,14,15,16],"padding":0.5},"axis":null}}},
  {"transform":[{"filter":"datum.g == 'OAP' && datum.kind == 'study'"}],"mark":{"type":"point","shape":"square","filled":true,"size":18,"color":"#000","opacity":1},
   "encoding":{"x":{"field":"r","type":"quantitative","title":null,"axis":{"orient":"bottom","values":[-1,-0.5,0,0.5,1],"grid":false,"domain":false,"ticks":false,"labelFont":"Liberation Sans","labelFontSize":3.2,"labelColor":"#222","labelPadding":1,"labelFlush":false,"labelOverlap":false,"labelLineHeight":12.8,"labelExpr":"datum.value == -1 ? '-1.00' : datum.value == -0.5 ? ['-0.50','Favours A'] : datum.value == 0 ? '0.00' : datum.value == 0.5 ? ['0.50','Favours B'] : '1.00'"}},"y":{"field":"row","type":"ordinal","axis":null}}},
  {"transform":[{"filter":"datum.g == 'OAP' && datum.kind == 'summary'"}],"mark":{"type":"point","shape":"diamond","filled":true,"size":26,"color":"#000","opacity":1},
   "encoding":{"x":{"field":"r","type":"quantitative","title":null,"axis":{"orient":"bottom","values":[-1,-0.5,0,0.5,1],"grid":false,"domain":false,"ticks":false,"labelFont":"Liberation Sans","labelFontSize":3.2,"labelColor":"#222","labelPadding":1,"labelFlush":false,"labelOverlap":false,"labelLineHeight":12.8,"labelExpr":"datum.value == -1 ? '-1.00' : datum.value == -0.5 ? ['-0.50','Favours A'] : datum.value == 0 ? '0.00' : datum.value == 0.5 ? ['0.50','Favours B'] : '1.00'"}},"y":{"field":"row","type":"ordinal","axis":null}}}
 ]},
{"width":94,"height":79,"transform":[{"filter":"datum.g == 'OAV' && datum.kind == 'study'"},{"fold":["sub","study"],"as":["col","txt"]}],
 "mark":{"type":"text","align":"left","baseline":"middle","font":"Liberation Sans","fontSize":2.8,"color":"#333"},
 "encoding":{"x":{"field":"col","type":"nominal","scale":{"type":"point","domain":["sub","study"],"padding":0.675,"align":0.2222},"axis":{"orient":"top","title":null,"domain":false,"ticks":false,"tickSize":0,"labelAngle":0,"labelAlign":"left","labelBaseline":"bottom","labelFont":"Liberation Sans","labelFontSize":3.3,"labelFontWeight":"bold","labelColor":"#222","labelPadding":12.4,"labelOverlap":false,"labelExpr":"datum.value == 'sub' ? 'Subgroup within study' : 'Study name'"}},
 "y":{"field":"row","type":"ordinal","scale":{"type":"point","domain":[1,2,3,4,5,6,7,8,9,10,11,12,13,14,15,16],"padding":0.5},"axis":null},
 "text":{"field":"txt","type":"nominal"}}},
{"width":94,"height":79,"title":{"text":"OAV","font":"Liberation Serif","fontSize":15,"fontWeight":"normal","color":"#000","offset":14.2,"dx":3,"anchor":"middle"},
 "transform":[{"filter":"datum.g == 'OAV'"},{"fold":["r","lo","hi","z","p"],"as":["col","val"]}],
 "mark":{"type":"text","align":"center","baseline":"middle","font":"Liberation Sans","fontSize":2.8,"color":"#333"},
 "encoding":{"x":{"field":"col","type":"nominal","scale":{"type":"point","domain":["r","lo","hi","z","p"],"padding":1.357,"align":0.184},"axis":{"orient":"top","title":"Statistics for each study","titleFont":"Liberation Sans","titleFontSize":3.3,"titleFontWeight":"bold","titleColor":"#222","titlePadding":2.5,"titleX":37,"domain":false,"ticks":false,"tickSize":0,"labelAngle":0,"labelFont":"Liberation Sans","labelFontSize":3.1,"labelFontWeight":"bold","labelColor":"#222","labelPadding":2,"labelLineHeight":3.8,"labelOverlap":false,"labelExpr":"datum.value == 'r' ? 'Correlation' : datum.value == 'lo' ? ['Lower','limit'] : datum.value == 'hi' ? ['Upper','limit'] : datum.value == 'z' ? 'Z-Value' : 'p-Value'"}},
 "y":{"field":"row","type":"ordinal","scale":{"type":"point","domain":[1,2,3,4,5,6,7,8,9,10,11,12,13,14,15,16],"padding":0.5},"axis":null},
 "text":{"field":"val","type":"quantitative","format":".3f"}}},
{"width":86.5,"height":79,"title":{"text":"Correlation and 95% CI","font":"Liberation Sans","fontSize":3.3,"fontWeight":"bold","color":"#222","offset":12,"anchor":"middle"},
 "layer":[
  {"data":{"values":[{"v":-1},{"v":-0.5},{"v":0},{"v":0.5},{"v":1}]},"mark":{"type":"rule","color":"#6e6e6e","strokeWidth":1.6},
   "encoding":{"x":{"field":"v","type":"quantitative","title":null,"scale":{"domain":[-1,1],"nice":false,"zero":false},"axis":{"orient":"bottom","values":[-1,-0.5,0,0.5,1],"grid":false,"domain":false,"ticks":false,"labelFont":"Liberation Sans","labelFontSize":3.2,"labelColor":"#222","labelPadding":1,"labelFlush":false,"labelOverlap":false,"labelLineHeight":12.8,"labelExpr":"datum.value == -1 ? '-1.00' : datum.value == -0.5 ? ['-0.50','Favours A'] : datum.value == 0 ? '0.00' : datum.value == 0.5 ? ['0.50','Favours B'] : '1.00'"}}}},
  {"transform":[{"filter":"datum.g == 'OAV' && datum.kind == 'study'"}],"mark":{"type":"rule","color":"#000","strokeWidth":0.6},
   "encoding":{"x":{"field":"lo","type":"quantitative","title":null,"axis":{"orient":"bottom","values":[-1,-0.5,0,0.5,1],"grid":false,"domain":false,"ticks":false,"labelFont":"Liberation Sans","labelFontSize":3.2,"labelColor":"#222","labelPadding":1,"labelFlush":false,"labelOverlap":false,"labelLineHeight":12.8,"labelExpr":"datum.value == -1 ? '-1.00' : datum.value == -0.5 ? ['-0.50','Favours A'] : datum.value == 0 ? '0.00' : datum.value == 0.5 ? ['0.50','Favours B'] : '1.00'"}},"x2":{"field":"hi"},
   "y":{"field":"row","type":"ordinal","scale":{"type":"point","domain":[1,2,3,4,5,6,7,8,9,10,11,12,13,14,15,16],"padding":0.5},"axis":null}}},
  {"transform":[{"filter":"datum.g == 'OAV' && datum.kind == 'study'"}],"mark":{"type":"point","shape":"square","filled":true,"size":18,"color":"#000","opacity":1},
   "encoding":{"x":{"field":"r","type":"quantitative","title":null,"axis":{"orient":"bottom","values":[-1,-0.5,0,0.5,1],"grid":false,"domain":false,"ticks":false,"labelFont":"Liberation Sans","labelFontSize":3.2,"labelColor":"#222","labelPadding":1,"labelFlush":false,"labelOverlap":false,"labelLineHeight":12.8,"labelExpr":"datum.value == -1 ? '-1.00' : datum.value == -0.5 ? ['-0.50','Favours A'] : datum.value == 0 ? '0.00' : datum.value == 0.5 ? ['0.50','Favours B'] : '1.00'"}},"y":{"field":"row","type":"ordinal","axis":null}}},
  {"transform":[{"filter":"datum.g == 'OAV' && datum.kind == 'summary'"}],"mark":{"type":"point","shape":"diamond","filled":true,"size":26,"color":"#000","opacity":1},
   "encoding":{"x":{"field":"r","type":"quantitative","title":null,"axis":{"orient":"bottom","values":[-1,-0.5,0,0.5,1],"grid":false,"domain":false,"ticks":false,"labelFont":"Liberation Sans","labelFontSize":3.2,"labelColor":"#222","labelPadding":1,"labelFlush":false,"labelOverlap":false,"labelLineHeight":12.8,"labelExpr":"datum.value == -1 ? '-1.00' : datum.value == -0.5 ? ['-0.50','Favours A'] : datum.value == 0 ? '0.00' : datum.value == 0.5 ? ['0.50','Favours B'] : '1.00'"}},"y":{"field":"row","type":"ordinal","axis":null}}}
 ]}
],"spacing":0,"bounds":"flush"}
],
"config":{"view":{"stroke":null}}
}
